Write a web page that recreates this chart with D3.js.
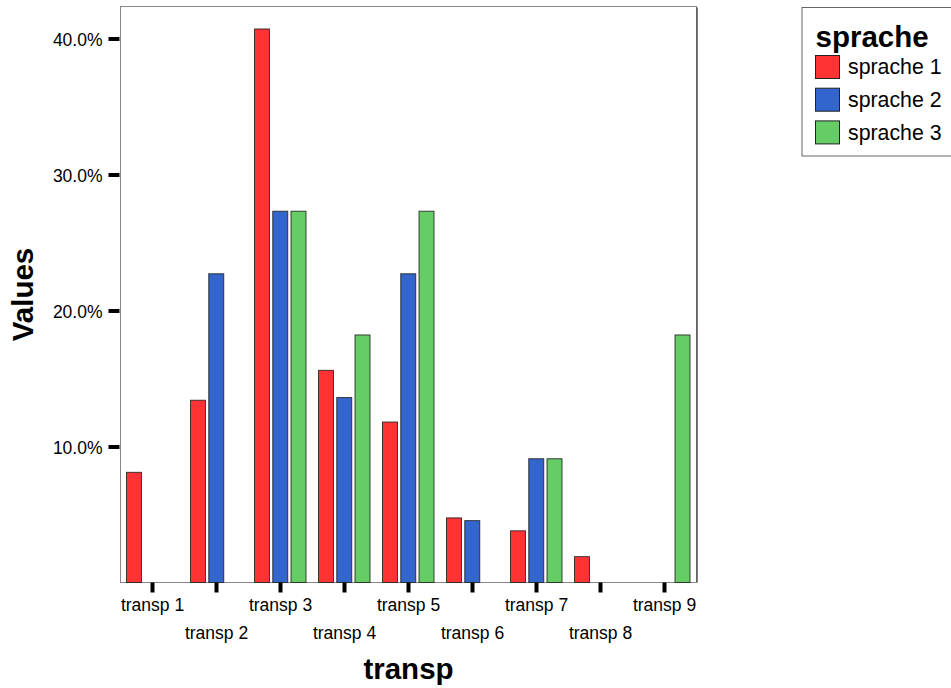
<!DOCTYPE html>
<html>
<head>
<meta charset="utf-8">
<script src="https://cdn.jsdelivr.net/npm/d3@7"></script>
<style>
  body { margin: 0; background: #fff; }
  svg { display: block; font-family: "Liberation Sans", Arial, sans-serif; }
</style>
</head>
<body>
<svg id="chart" width="951" height="688"></svg>
<script>
const categories = ["transp 1","transp 2","transp 3","transp 4","transp 5","transp 6","transp 7","transp 8","transp 9"];
const seriesNames = ["sprache 1","sprache 2","sprache 3"];
const sprache1 = [8.1, 13.4, 40.7, 15.6, 11.8, 4.75, 3.8, 1.9, 0];
const sprache2 = [0, 22.7, 27.3, 13.6, 22.7, 4.55, 9.1, 0, 0];
const sprache3 = [0, 0, 27.3, 18.2, 27.3, 0, 9.1, 0, 18.2];
const yTicks = [10, 20, 30, 40];
const colors = ["#FF3333", "#3366CC", "#66CC66"];

const FONT = "'Liberation Sans', Arial, sans-serif";
const seriesValues = [sprache1, sprache2, sprache3];
const svg = d3.select("#chart");

const plot = { left: 120.5, right: 696.5, top: 6.5, bottom: 582.5 };

const x0 = d3.scaleBand().domain(categories).range([plot.left, plot.right]).padding(0);
const x1 = d3.scaleBand().domain(seriesNames).range([0, 51.5]).paddingInner(0.18);
// 10% corresponds to 136px
const y = d3.scaleLinear().domain([0, (plot.bottom - plot.top) / 13.6]).range([plot.bottom, plot.top]);

// plot frame
svg.append("rect")
  .attr("x", plot.left).attr("y", plot.top)
  .attr("width", plot.right - plot.left).attr("height", plot.bottom - plot.top)
  .attr("fill", "#fff").attr("stroke", "#888").attr("stroke-width", 1);
svg.append("line")
  .attr("x1", plot.right + 0.5).attr("x2", plot.right + 0.5)
  .attr("y1", plot.top + 1).attr("y2", plot.bottom)
  .attr("stroke", "#555").attr("stroke-width", 1.5);

// bars
const data = [];
categories.forEach((c, i) => {
  seriesNames.forEach((s, j) => {
    const v = seriesValues[j][i];
    if (v > 0) data.push({ c, s, v, j });
  });
});
svg.append("g").selectAll("rect").data(data).join("rect")
  .attr("x", d => x0(d.c) + x0.bandwidth() / 2 - 26 + x1(d.s))
  .attr("width", x1.bandwidth())
  .attr("y", d => y(d.v))
  .attr("height", d => plot.bottom - y(d.v))
  .attr("fill", d => colors[d.j])
  .attr("stroke", "#222")
  .attr("stroke-opacity", 0.85)
  .attr("stroke-width", 1);

// y axis
const yAxis = d3.axisLeft(y).tickValues(yTicks).tickSize(11).tickPadding(6)
  .tickFormat(d => d.toFixed(1) + "%");
const gy = svg.append("g").attr("transform", `translate(${plot.left - 1},0)`).call(yAxis);
gy.attr("font-family", FONT).attr("font-size", 17.5);
gy.select(".domain").remove();
gy.selectAll(".tick line").attr("stroke", "#000").attr("stroke-width", 4);
gy.selectAll(".tick text").attr("fill", "#000").attr("dy", "0.4em");

// x axis
const xAxis = d3.axisBottom(x0).tickSize(10).tickPadding(0);
const gx = svg.append("g").attr("transform", `translate(0,${plot.bottom})`).call(xAxis);
gx.attr("font-family", FONT).attr("font-size", 17.5);
gx.select(".domain").remove();
gx.selectAll(".tick line").attr("stroke", "#000").attr("stroke-width", 4);
gx.selectAll(".tick text")
  .attr("fill", "#000")
  .attr("dy", null)
  .attr("y", (d, i) => i % 2 === 0 ? 28.5 : 56);

// axis titles
svg.append("text")
  .attr("x", (plot.left + plot.right) / 2).attr("y", 679)
  .attr("text-anchor", "middle").attr("font-size", 29.5).attr("font-weight", "bold")
  .attr("font-family", FONT)
  .text("transp");
svg.append("text")
  .attr("transform", `translate(33,${(plot.top + plot.bottom) / 2}) rotate(-90)`)
  .attr("text-anchor", "middle").attr("font-size", 29.5).attr("font-weight", "bold")
  .attr("font-family", FONT)
  .text("Values");

// legend
const lg = svg.append("g").attr("font-family", FONT);
lg.append("rect").attr("x", 802).attr("y", 7.5).attr("width", 160).attr("height", 148.5)
  .attr("fill", "#fff").attr("stroke", "#666").attr("stroke-width", 1);
lg.append("text").attr("x", 815.5).attr("y", 47).attr("font-size", 29.5).attr("font-weight", "bold")
  .text("sprache");
seriesNames.forEach((s, j) => {
  const yy = 55.5 + j * 32.7;
  lg.append("rect").attr("x", 815.5).attr("y", yy).attr("width", 24).attr("height", 23)
    .attr("fill", colors[j]).attr("stroke", "#222").attr("stroke-width", 1);
  lg.append("text").attr("x", 848).attr("y", yy + 18.7).attr("font-size", 21.3).text(s);
});
</script>
</body>
</html>
